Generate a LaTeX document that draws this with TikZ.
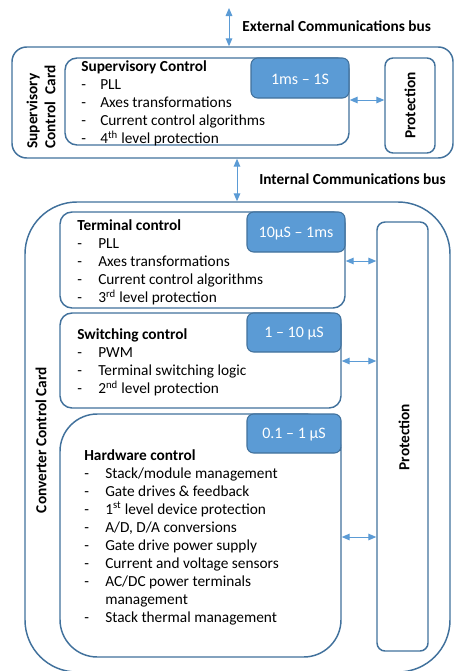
\documentclass[tikz,border=0pt]{standalone}
\usepackage{fontspec}
\setmainfont{Carlito}
\usepackage{xcolor}
\usetikzlibrary{shapes,arrows.meta,positioning,calc,fit}
\definecolor{boxline}{HTML}{41719C}
\definecolor{timefill}{HTML}{5B9BD5}

\begin{document}
\begin{tikzpicture}[x=0.75pt, y=-0.75pt, font=\fontsize{11.5pt}{13.5pt}\selectfont]
    \tikzstyle{card} = [draw=boxline, line width=1.1pt, rounded corners=11pt, inner sep=0pt]
    \tikzstyle{ctrlbox} = [draw=boxline, fill=white, line width=1.1pt, rounded corners=9pt, inner sep=0pt]
    \tikzstyle{timebox} = [draw=boxline, fill=timefill, line width=0.8pt, rounded corners=5pt, inner sep=0pt]
    \tikzstyle{timetext} = [text=white, inner sep=0pt, yshift=-1pt, font=\fontsize{12pt}{14pt}\selectfont]
    \tikzstyle{protbox} = [draw=boxline, line width=1.1pt, rounded corners=6pt, inner sep=0pt]
    \tikzstyle{vlabel} = [rotate=90, font=\fontsize{11.5pt}{13.5pt}\selectfont\bfseries, align=left]
    \tikzstyle{items} = [anchor=north west, inner sep=0pt]
    \tikzstyle{bus} = [{Triangle[length=6pt,width=5pt]}-{Triangle[length=6pt,width=5pt]}, draw=timefill, line width=0.75pt]
    \tikzstyle{buslabel} = [anchor=west, inner sep=0pt, font=\fontsize{11.5pt}{13.5pt}\selectfont\bfseries]

    \useasboundingbox (0,0) rectangle (454,671);

    % Supervisory card
    \node [card, fit={(12,47) (453,158)}] (supcard) {};
    \node [vlabel] (supname) at (41,107) {Supervisory\\Control\ \ Card};
    \node [ctrlbox, fit={(65,58) (349,145)}] (supctrl) {};
    \node [timebox, fit={(251,58) (349,98)}] (suptime) {};
    \node [timetext] at (suptime.center) {1ms -- 1S};
    \node [protbox, fit={(385,58) (435,153)}] (supprot) {};
    \node [vlabel] at (supprot.center) {Protection};
    \node [items] (suptext) at (81,58.4) {\begin{tabular}{@{}p{14.25pt}@{}l@{}}
        \multicolumn{2}{@{}l@{}}{\textbf{Supervisory Control}}\\
        - & PLL\\
        - & Axes transformations\\
        - & Current control algorithms\\
        - & 4\textsuperscript{th} level protection
    \end{tabular}};

    % Converter card
    \node [card, rounded corners=39pt, fit={(25,202) (450,672)}] (convcard) {};
    \node [vlabel] (convname) at (41,440) {Converter Control Card};
    \node [protbox, fit={(377,222) (428,651)}] (convprot) {};
    \node [vlabel] at (404,437) {Protection};

    \node [ctrlbox, fit={(60,212) (345,308)}] (termctrl) {};
    \node [timebox, fit={(247,212) (345,252)}] (termtime) {};
    \node [timetext] at (termtime.center) {10μS -- 1ms};
    \node [items] (termtext) at (77,217.4) {\begin{tabular}{@{}p{15.75pt}@{}l@{}}
        \multicolumn{2}{@{}l@{}}{\textbf{Terminal control}}\\
        - & PLL\\
        - & Axes transformations\\
        - & Current control algorithms\\
        - & 3\textsuperscript{rd} level protection
    \end{tabular}};

    \node [ctrlbox, fit={(60,313) (341,408)}] (swctrl) {};
    \node [timebox, fit={(247,313) (341,352)}] (swtime) {};
    \node [timetext] at (swtime.center) {1 -- 10 μS};
    \node [items] (swtext) at (77,326.4) {\begin{tabular}{@{}p{15.75pt}@{}l@{}}
        \multicolumn{2}{@{}l@{}}{\textbf{Switching control}}\\
        - & PWM\\
        - & Terminal switching logic\\
        - & 2\textsuperscript{nd} level protection
    \end{tabular}};

    \node [ctrlbox, rounded corners=28pt, fit={(60,414) (341,657)}] (hwctrl) {};
    \node [timebox, fit={(247,414) (341,453)}] (hwtime) {};
    \node [timetext] at (hwtime.center) {0.1 -- 1 μS};
    \node [items] (hwtext) at (84,447.4) {\begin{tabular}{@{}p{15.75pt}@{}l@{}}
        \multicolumn{2}{@{}l@{}}{\textbf{Hardware control}}\\
        - & Stack/module management\\
        - & Gate drives \& feedback\\
        - & 1\textsuperscript{st} level device protection\\
        - & A/D, D/A conversions\\
        - & Gate drive power supply\\
        - & Current and voltage sensors\\
        - & AC/DC power terminals\\
          & management\\
        - & Stack thermal management
    \end{tabular}};

    % Buses
    \coordinate (extbus) at (229,8);
    \coordinate (intbus) at (237,0);
    \node [buslabel] (extlabel) at (242,26) {External Communications bus};
    \node [buslabel] (intlabel) at (259,179) {Internal Communications bus};
    \draw [bus] (extbus) -- (extbus |- supcard.north);
    \draw [bus] (intbus |- supcard.south) -- (intbus |- convcard.north);

    % Protection links
    \coordinate (suplink) at (0,100);
    \coordinate (termlink) at (0,261);
    \coordinate (swlink) at (0,361);
    \coordinate (hwlink) at (0,537);
    \draw [bus] (suplink -| supctrl.east) -- (suplink -| supprot.west);
    \draw [bus] (termlink -| termctrl.east) -- (termlink -| convprot.west);
    \draw [bus] (swlink -| swctrl.east) -- (swlink -| convprot.west);
    \draw [bus] (hwlink -| hwctrl.east) -- (hwlink -| convprot.west);
\end{tikzpicture}
\end{document}
